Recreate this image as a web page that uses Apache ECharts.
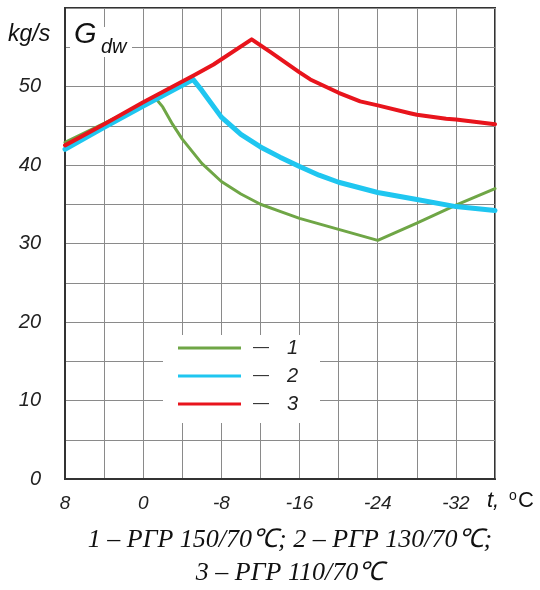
<!DOCTYPE html>
<html>
<head>
<meta charset="utf-8">
<script src="https://cdn.jsdelivr.net/npm/echarts@6/dist/echarts.min.js"></script>
<style>
  html, body { margin: 0; padding: 0; background: #fff; }
  #chart { width: 540px; height: 590px; }
</style>
</head>
<body>
<div id="chart"></div>
<script>
// Outdoor temperature, °C (axis runs from warm to cold)
const tempMin = -36;
const tempMax = 8;
const tempStep = 4;

// Flow rate of district water, kg/s
const flowMin = 0;
const flowMax = 60;
const flowStep = 5;

// Curve 1 — РГР 150/70 ℃
const regime1Temp = [8, 4, 0, -1.2, -2, -3, -4, -6, -8, -10, -12, -14, -16, -20, -24, -28, -32, -36];
const regime1Flow = [42.9, 45.3, 47.8, 48.6, 47.4, 45.2, 43.3, 40.2, 37.9, 36.3, 35.0, 34.1, 33.2, 31.8, 30.4, 32.6, 34.9, 37.0];

// Curve 2 — РГР 130/70 ℃
const regime2Temp = [8, 4, 0, -5.1, -6, -8, -10, -12, -14, -16, -18, -20, -24, -28, -32, -36];
const regime2Flow = [42.0, 44.8, 47.5, 50.9, 49.5, 46.1, 43.9, 42.3, 41.0, 39.8, 38.7, 37.8, 36.5, 35.6, 34.7, 34.2];

// Curve 3 — РГР 110/70 ℃
const regime3Temp = [8, 4, 0, -5.3, -7.2, -11.1, -13, -16, -17.1, -20, -22.2, -24, -27.3, -28, -31, -32, -36];
const regime3Flow = [42.5, 45.2, 48.0, 51.5, 52.8, 56.0, 54.4, 51.8, 50.9, 49.2, 48.1, 47.6, 46.6, 46.4, 45.9, 45.8, 45.2];

const seriesNames = ['1', '2', '3'];
const seriesColors = ['#6fa646', '#1fc6f0', '#e8141c'];
const seriesWidths = [3, 5, 4];

const captionLines = [
  '1 – РГР 150/70℃; 2 – РГР 130/70℃;',
  '3 – РГР 110/70℃'
];

const sans = '"Liberation Sans", Arial, sans-serif';
const serif = '"Liberation Serif", "Times New Roman", serif';

function pairs(xs, ys) {
  return xs.map((x, i) => [x, ys[i]]);
}

const curves = [
  pairs(regime1Temp, regime1Flow),
  pairs(regime2Temp, regime2Flow),
  pairs(regime3Temp, regime3Flow)
];

const chart = echarts.init(document.getElementById('chart'), null, { renderer: 'canvas' });

chart.setOption({
  animation: false,
  backgroundColor: '#ffffff',
  grid: {
    left: 65, right: 45, top: 8, bottom: 111,
    show: true, borderColor: '#333', borderWidth: 2, backgroundColor: 'transparent'
  },
  xAxis: {
    type: 'value',
    min: tempMin, max: tempMax, interval: tempStep,
    inverse: true,
    axisLine: { show: true, onZero: false, lineStyle: { color: '#333', width: 2 } },
    axisTick: { show: false },
    splitLine: { show: true, lineStyle: { color: '#8a8a8a', width: 1 } },
    axisLabel: {
      margin: 15,
      fontFamily: sans, fontStyle: 'italic', fontSize: 19, color: '#222',
      formatter: v => (v % 8 === 0 ? String(v) : '')
    }
  },
  yAxis: {
    type: 'value',
    min: flowMin, max: flowMax, interval: flowStep,
    axisLine: { show: true, onZero: false, lineStyle: { color: '#333', width: 2 } },
    axisTick: { show: false },
    splitLine: { show: true, lineStyle: { color: '#8a8a8a', width: 1 } },
    axisLabel: {
      margin: 24,
      fontFamily: sans, fontStyle: 'italic', fontSize: 20, color: '#222',
      formatter: v => (v % 10 === 0 && v < flowMax ? String(v) : '')
    }
  },
  legend: {
    orient: 'vertical',
    left: 178, top: 338,
    padding: 0,
    itemGap: 8,
    itemWidth: 63, itemHeight: 3,
    icon: 'rect',
    data: seriesNames,
    formatter: name => '{d|—}{n|' + name + '}',
    textStyle: {
      lineHeight: 20,
      rich: {
        d: { fontFamily: sans, fontSize: 16, color: '#333', padding: [0, 0, 0, 7] },
        n: { fontFamily: sans, fontSize: 20, fontStyle: 'italic', color: '#222', padding: [0, 0, 0, 18] }
      }
    },
    selectedMode: false
  },
  graphic: [
    // clear area behind the legend
    { type: 'rect', z: 3, shape: { x: 163, y: 335, width: 157, height: 88 }, style: { fill: '#fff' } },
    // clear area behind the G_dw heading
    { type: 'rect', z: 3, shape: { x: 70, y: 27, width: 62, height: 30 }, style: { fill: '#fff' } },
    {
      type: 'text', z: 5, x: 74, y: 35,
      style: { text: 'G', font: 'italic 29px ' + sans, fill: '#111', textVerticalAlign: 'middle' }
    },
    {
      type: 'text', z: 5, x: 101, y: 47,
      style: { text: 'dw', font: 'italic 20px ' + sans, fill: '#111', textVerticalAlign: 'middle' }
    },
    {
      type: 'text', z: 5, x: 8, y: 35,
      style: { text: 'kg/s', font: 'italic 23px ' + sans, fill: '#111', textVerticalAlign: 'middle' }
    },
    {
      type: 'text', z: 5, x: 487, y: 501,
      style: { text: 't,', font: 'italic 22px ' + sans, fill: '#111', textVerticalAlign: 'middle' }
    },
    {
      type: 'text', z: 5, x: 509, y: 496,
      style: { text: 'o', font: '14px ' + sans, fill: '#111', textVerticalAlign: 'middle' }
    },
    {
      type: 'text', z: 5, x: 518, y: 501,
      style: { text: 'C', font: '22px ' + sans, fill: '#111', textVerticalAlign: 'middle' }
    },
    {
      type: 'text', z: 5, x: 290, y: 540,
      style: { text: captionLines[0], font: 'italic 26px ' + serif, fill: '#111', textAlign: 'center', textVerticalAlign: 'middle' }
    },
    {
      type: 'text', z: 5, x: 290, y: 573,
      style: { text: captionLines[1], font: 'italic 26px ' + serif, fill: '#111', textAlign: 'center', textVerticalAlign: 'middle' }
    }
  ],
  series: curves.map((data, i) => ({
    name: seriesNames[i],
    type: 'line',
    data: data,
    showSymbol: false,
    symbol: 'none',
    smooth: false,
    z: 4,
    itemStyle: { color: seriesColors[i] },
    lineStyle: { color: seriesColors[i], width: seriesWidths[i], cap: 'round', join: 'round' }
  }))
});
</script>
</body>
</html>
